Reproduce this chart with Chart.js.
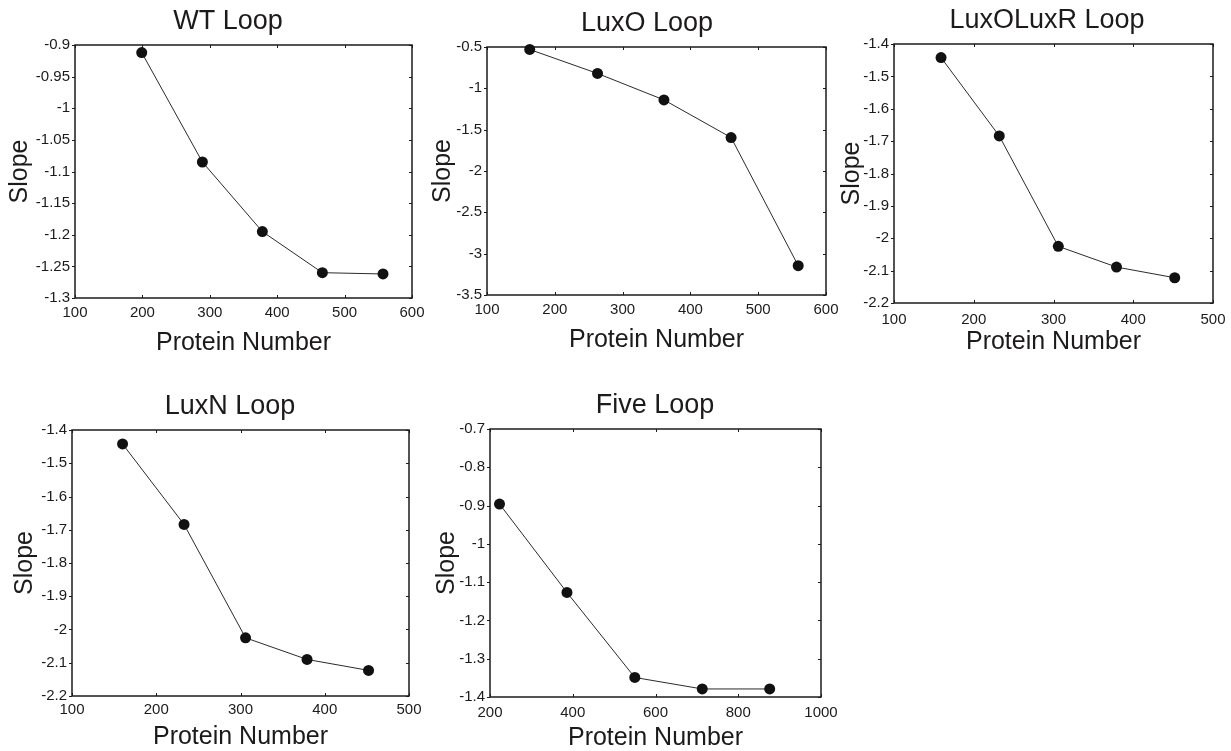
<!DOCTYPE html>
<html><head><meta charset="utf-8">
<script src="https://cdn.jsdelivr.net/npm/chart.js@4.4.0/dist/chart.umd.min.js"></script>
<style>
html,body{margin:0;padding:0;background:#fff;width:1231px;height:751px;overflow:hidden;position:relative}
canvas{position:absolute}
</style></head><body>
<script>
// ---- data ----
const panelTitles = ['WT Loop', 'LuxO Loop', 'LuxOLuxR Loop', 'LuxN Loop', 'Five Loop'];
const xAxisLabel = 'Protein Number';
const yAxisLabel = 'Slope';

const wtX = [199, 289, 378, 467, 557];
const wtY = [-0.912, -1.085, -1.195, -1.260, -1.262];
const luxoX = [163, 263, 361, 460, 559];
const luxoY = [-0.53, -0.82, -1.14, -1.595, -3.145];
const luxoluxrX = [159, 232, 306, 379, 452];
const luxoluxrY = [-1.442, -1.684, -2.025, -2.089, -2.122];
const luxnX = [160, 233, 306, 379, 452];
const luxnY = [-1.442, -1.684, -2.025, -2.090, -2.123];
const fiveX = [223, 386, 550, 713, 876];
const fiveY = [-0.896, -1.127, -1.349, -1.379, -1.379];

const wtXTicks = [100, 200, 300, 400, 500, 600];
const wtYTicks = [-1.3, -1.25, -1.2, -1.15, -1.1, -1.05, -1, -0.95, -0.9];
const luxoXTicks = [100, 200, 300, 400, 500, 600];
const luxoYTicks = [-3.5, -3, -2.5, -2, -1.5, -1, -0.5];
const luxoluxrXTicks = [100, 200, 300, 400, 500];
const luxoluxrYTicks = [-2.2, -2.1, -2, -1.9, -1.8, -1.7, -1.6, -1.5, -1.4];
const luxnXTicks = [100, 200, 300, 400, 500];
const luxnYTicks = [-2.2, -2.1, -2, -1.9, -1.8, -1.7, -1.6, -1.5, -1.4];
const fiveXTicks = [200, 400, 600, 800, 1000];
const fiveYTicks = [-1.4, -1.3, -1.2, -1.1, -1, -0.9, -0.8, -0.7];

// ---- layout (plot box in page pixels) ----
const panels = [
  {title: panelTitles[0], xs: wtX, ys: wtY, xt: wtXTicks, yt: wtYTicks,
   L: 75, T: 45, R: 412, B: 298, tCx: 228, yCx: 20, xTy: 343, xTickP: 6},
  {title: panelTitles[1], xs: luxoX, ys: luxoY, xt: luxoXTicks, yt: luxoYTicks,
   L: 487, T: 47, R: 826, B: 295, tCx: 647, yCx: 443, xTy: 340, xTickP: 6},
  {title: panelTitles[2], xs: luxoluxrX, ys: luxoluxrY, xt: luxoluxrXTicks, yt: luxoluxrYTicks,
   L: 894, T: 44, R: 1213, B: 303, tCx: 1047, yCx: 852, xTy: 342, xTickP: 8},
  {title: panelTitles[3], xs: luxnX, ys: luxnY, xt: luxnXTicks, yt: luxnYTicks,
   L: 72, T: 430, R: 409, B: 696, tCx: 230, yCx: 25, xTy: 737, xTickP: 5},
  {title: panelTitles[4], xs: fiveX, ys: fiveY, xt: fiveXTicks, yt: fiveYTicks,
   L: 490, T: 429, R: 821, B: 697, tCx: 655, yCx: 447, xTy: 738, xTickP: 7}
];

const FONT = "'Liberation Sans', Arial, Helvetica, sans-serif";
const INK = '#1c1a1b';

const boxPlugin = {
  id: 'matBox',
  beforeDatasetsDraw(chart) {
    const {ctx, chartArea: a, scales: {x, y}} = chart;
    ctx.save();
    ctx.strokeStyle = INK;
    ctx.lineWidth = 1.5;
    ctx.strokeRect(a.left, a.top, a.right - a.left, a.bottom - a.top);
    ctx.lineWidth = 1;
    const t = 3;
    ctx.beginPath();
    x.ticks.forEach(tk => {
      const px = Math.round(x.getPixelForValue(tk.value)) + 0.5;
      ctx.moveTo(px, a.bottom); ctx.lineTo(px, a.bottom - t);
      ctx.moveTo(px, a.top); ctx.lineTo(px, a.top + t);
    });
    y.ticks.forEach(tk => {
      const py = Math.round(y.getPixelForValue(tk.value)) + 0.5;
      ctx.moveTo(a.left, py); ctx.lineTo(a.left - t, py);
      ctx.moveTo(a.right, py); ctx.lineTo(a.right - t, py);
    });
    ctx.stroke();
    ctx.restore();
  }
};

const TOP_H = 46, PAD_L = 4, PAD_R = 4;
panels.forEach(p => {
  const W = p.L - p.yCx + 15;                       // y-scale width: axis title centred at yCx
  const D = Math.max(0, 2 * p.tCx - (p.L - W) - p.R); // spacer on right so panel title centres at tCx
  const H = p.xTy - p.B + 15;                       // x-scale height: axis title centred at xTy
  const cLeft = p.L - W - PAD_L;
  const cTop = p.T - TOP_H;
  const cw = PAD_L + W + (p.R - p.L) + D + PAD_R;
  const ch = TOP_H + (p.B - p.T) + H;
  const cv = document.createElement('canvas');
  cv.width = cw; cv.height = ch;
  cv.style.left = cLeft + 'px'; cv.style.top = cTop + 'px';
  cv.style.width = cw + 'px'; cv.style.height = ch + 'px';
  document.body.appendChild(cv);

  new Chart(cv, {
    type: 'line',
    data: {
      datasets: [{
        data: p.xs.map((v, i) => ({x: v, y: p.ys[i]})),
        borderColor: '#2a2a2a',
        borderWidth: 1,
        pointRadius: 5.5,
        pointHoverRadius: 5.5,
        pointBackgroundColor: '#111',
        pointBorderColor: '#111',
        pointBorderWidth: 0,
        tension: 0,
        clip: false
      }]
    },
    options: {
      responsive: false,
      animation: false,
      devicePixelRatio: 1,
      layout: {padding: {left: PAD_L, right: PAD_R, top: 0, bottom: 0}},
      plugins: {
        legend: {display: false},
        tooltip: {enabled: false},
        title: {
          display: true, text: p.title, color: INK,
          font: {family: FONT, size: 27, weight: 'normal'},
          padding: {top: 6.8, bottom: 6.8}
        }
      },
      scales: {
        x: {
          type: 'linear',
          min: p.xt[0], max: p.xt[p.xt.length - 1],
          afterBuildTicks: s => { s.ticks = p.xt.map(v => ({value: v})); },
          afterFit: s => { s.height = H; },
          grid: {display: false, drawTicks: false},
          border: {display: false},
          ticks: {color: INK, font: {family: FONT, size: 15}, padding: p.xTickP,
                  maxRotation: 0, autoSkip: false, callback: v => String(v)},
          title: {display: true, text: xAxisLabel, color: INK,
                  font: {family: FONT, size: 25}, padding: {top: 0, bottom: 0}}
        },
        y: {
          type: 'linear',
          min: p.yt[0], max: p.yt[p.yt.length - 1],
          afterBuildTicks: s => { s.ticks = p.yt.map(v => ({value: v})); },
          afterFit: s => { s.width = W; },
          grid: {display: false, drawTicks: false},
          border: {display: false},
          ticks: {color: INK, font: {family: FONT, size: 15}, padding: 5,
                  autoSkip: false, callback: v => String(+v.toFixed(3))},
          title: {display: true, text: yAxisLabel, color: INK,
                  font: {family: FONT, size: 25}, padding: {top: 0, bottom: 0}}
        },
        spacer: {
          type: 'linear', position: 'right', display: true, min: 0, max: 1,
          afterFit: s => { s.width = D; },
          grid: {display: false, drawTicks: false},
          border: {display: false},
          ticks: {display: false}
        }
      }
    },
    plugins: [boxPlugin]
  });
});
</script>
</body></html>
